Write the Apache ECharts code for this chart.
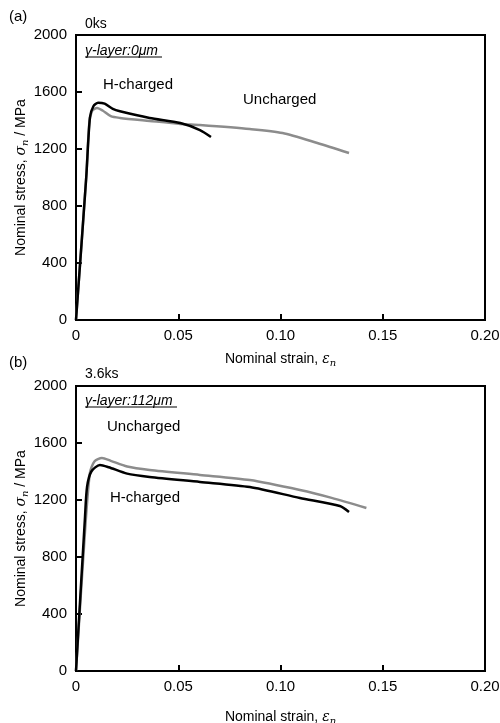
<!DOCTYPE html>
<html>
<head>
<meta charset="utf-8">
<script src="https://cdn.jsdelivr.net/npm/echarts@6/dist/echarts.min.js"></script>
<style>
  html, body { margin: 0; padding: 0; background: #fff; }
  #chart { width: 500px; height: 723px; }
</style>
</head>
<body>
<div id="chart"></div>
<script>
// strain / stress pairs
var chargedA = [[0, 0], [0.005, 1000], [0.0068, 1420], [0.0085, 1500], [0.0108, 1525], [0.014, 1518],
    [0.018, 1482], [0.0215, 1465], [0.036, 1418], [0.051, 1382], [0.0606, 1333], [0.066, 1284]];
var unchargedA = [[0, 0], [0.005, 1000], [0.0065, 1380], [0.008, 1470], [0.0103, 1488], [0.013, 1470],
    [0.017, 1430], [0.0215, 1418], [0.036, 1397], [0.051, 1376], [0.0606, 1368], [0.085, 1340],
    [0.101, 1312], [0.118, 1242], [0.1335, 1172]];
var unchargedB = [[0, 0], [0.0045, 1000], [0.0068, 1390], [0.009, 1470], [0.0127, 1495], [0.017, 1475],
    [0.025, 1435], [0.036, 1411], [0.0606, 1376], [0.085, 1340], [0.1095, 1270], [0.125, 1215], [0.142, 1144]];
var chargedB = [[0, 0], [0.0044, 1081], [0.0054, 1291], [0.0075, 1400], [0.0117, 1446], [0.016, 1430],
    [0.025, 1385], [0.036, 1362], [0.0606, 1327], [0.085, 1291], [0.1095, 1214], [0.129, 1158], [0.1335, 1116]];

var panels = ['(a)', '(b)'];
var times = ['0ks', '3.6ks'];
var layers = ['γ-layer:0μm', 'γ-layer:112μm'];

var FONT = 'Liberation Sans, Arial, sans-serif';
var chart = echarts.init(document.getElementById('chart'));

function xAxis(idx, gap) {
    return {
        gridIndex: idx, type: 'value', min: 0, max: 0.2, interval: 0.05,
        name: '{a|Nominal strain, }{i|ε}{s|n}', nameLocation: 'middle', nameGap: gap, nameMoveOverlap: false,
        nameTextStyle: {
            rich: {
                a: { fontFamily: FONT, fontSize: 14, color: '#000' },
                i: { fontFamily: 'DejaVu Serif', fontStyle: 'italic', fontSize: 14, color: '#000' },
                s: { fontFamily: 'DejaVu Serif', fontStyle: 'italic', fontSize: 10, color: '#000', padding: [8, 0, 0, 0] }
            }
        },
        axisLine: { lineStyle: { color: '#000', width: 2 } },
        axisTick: { inside: true, length: 6, lineStyle: { color: '#000', width: 2 } },
        axisLabel: {
            color: '#000', fontFamily: FONT, fontSize: 15, margin: 8,
            formatter: function (v) { return v === 0 ? '0' : v.toFixed(2); }
        },
        splitLine: { show: false }
    };
}
function yAxis(idx) {
    return {
        gridIndex: idx, type: 'value', min: 0, max: 2000, interval: 400,
        name: '{a|Nominal stress, }{i|σ}{s|n}{a| / MPa}', nameLocation: 'middle', nameGap: 46, nameRotate: 90,
        nameMoveOverlap: false,
        nameTextStyle: {
            rich: {
                a: { fontFamily: FONT, fontSize: 14, color: '#000' },
                i: { fontFamily: 'DejaVu Serif', fontStyle: 'italic', fontSize: 14, color: '#000' },
                s: { fontFamily: 'DejaVu Serif', fontStyle: 'italic', fontSize: 10, color: '#000', padding: [8, 0, 0, 0] }
            }
        },
        axisLine: { lineStyle: { color: '#000', width: 2 } },
        axisTick: { inside: true, length: 6, lineStyle: { color: '#000', width: 2 } },
        axisLabel: {
            color: '#000', fontFamily: FONT, fontSize: 15, margin: 9,
            formatter: function (v) { return String(v); }
        },
        splitLine: { show: false }
    };
}
function curve(data, idx, color) {
    return {
        type: 'line', xAxisIndex: idx, yAxisIndex: idx, data: data, smooth: 0.25,
        showSymbol: false, lineStyle: { color: color, width: 2.5 }, z: color === '#000' ? 3 : 2
    };
}
function txt(x, y, s, extra) {
    var style = { text: s, x: x, y: y, fill: '#000', font: '15px ' + FONT, textVerticalAlign: 'middle' };
    for (var k in extra) style[k] = extra[k];
    return { type: 'text', style: style, z: 10 };
}
function uline(x1, x2, y) {
    return { type: 'line', shape: { x1: x1, y1: y, x2: x2, y2: y }, style: { stroke: '#000', lineWidth: 1 }, z: 10 };
}

chart.setOption({
    animation: false,
    grid: [
        { left: 76, top: 35, width: 409, height: 285, show: true, borderColor: '#000', borderWidth: 2,
          containLabel: false, outerBoundsMode: 'none' },
        { left: 76, top: 386, width: 409, height: 285, show: true, borderColor: '#000', borderWidth: 2,
          containLabel: false, outerBoundsMode: 'none' }
    ],
    xAxis: [xAxis(0, 30), xAxis(1, 37)],
    yAxis: [yAxis(0), yAxis(1)],
    series: [
        curve(unchargedA, 0, '#8c8c8c'),
        curve(chargedA, 0, '#000'),
        curve(unchargedB, 1, '#8c8c8c'),
        curve(chargedB, 1, '#000')
    ],
    graphic: [
        txt(9, 17, panels[0]),
        txt(85, 24, times[0], { font: '14px ' + FONT }),
        txt(85, 51, layers[0], { font: 'italic 14px ' + FONT }),
        uline(85, 162, 57),
        txt(103, 85, 'H-charged'),
        txt(243, 100, 'Uncharged'),
        txt(9, 363, panels[1]),
        txt(85, 374, times[1], { font: '14px ' + FONT }),
        txt(85, 401, layers[1], { font: 'italic 14px ' + FONT }),
        uline(85, 177, 407),
        txt(107, 427, 'Uncharged'),
        txt(110, 498, 'H-charged')
    ]
});
</script>
</body>
</html>
